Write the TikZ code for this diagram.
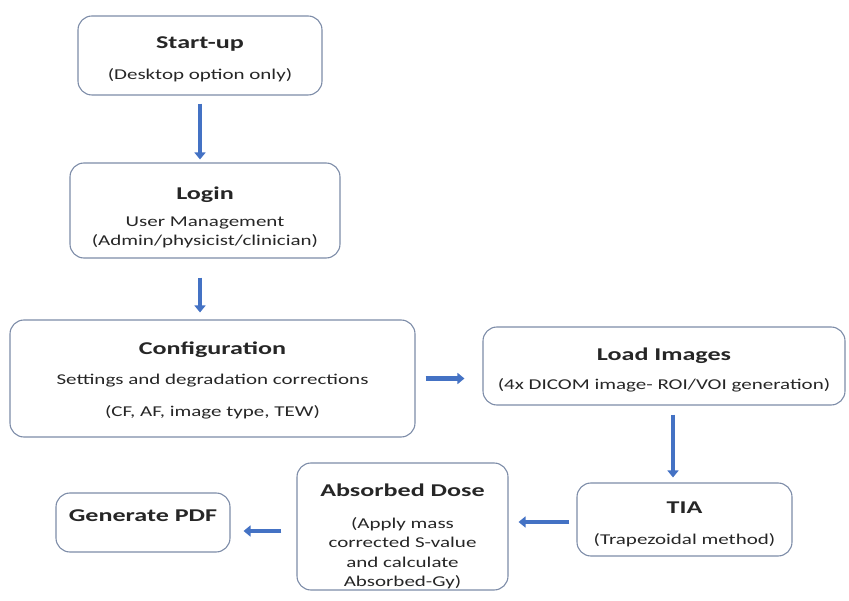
\documentclass[tikz,border=0pt]{standalone}
\usepackage{fontspec}
\setmainfont{Carlito}
\usepackage{xcolor}
\usepackage{tikz}
\usetikzlibrary{positioning,arrows.meta}
\definecolor{arrblue}{RGB}{68,114,196}
\definecolor{edge}{RGB}{125,140,168}
\newfontfamily\subfnt[FakeStretch=1.4]{Carlito}
\newfontfamily\ttlfnt[FakeStretch=1.45]{Carlito}
\newcommand{\ttl}[1]{{\ttlfnt\fontsize{18}{21}\selectfont\bfseries #1}}

\begin{document}
\begin{tikzpicture}[
  x=1pt, y=-1pt,
  font=\subfnt\fontsize{15}{19.5}\selectfont,
  b/.style={draw=edge, line width=1.1pt, rectangle, rounded corners=14pt, align=center, inner sep=0pt, text=black!85},
  arr/.style={-{Triangle[length=7pt,width=11pt]}, line width=4.5pt, draw=arrblue}
]
  \useasboundingbox (0,0) rectangle (849,601);
  \node[b, minimum width=244pt, minimum height=79pt] (start) at (200,55.5) {\rule{0pt}{19pt}\ttl{Start-up}\\[11pt](Desktop option only)};
  \node[b, minimum width=270pt, minimum height=95pt] (login) at (205,210.5) {\rule{0pt}{27pt}\ttl{Login}\\[7pt]User Management\\(Admin/physicist/clinician)};
  \node[b, minimum width=405pt, minimum height=117pt] (config) at (212.5,378.5) {\rule{0pt}{17pt}\ttl{Configuration}\\[10pt]Settings and degradation corrections\\[13pt](CF, AF, image type, TEW)};
  \node[b, minimum width=362pt, minimum height=78pt] (load) at (664,366) {\rule{0pt}{21pt}\ttl{Load Images}\\[9pt](4x DICOM image- ROI/VOI generation)};
  \node[b, minimum width=215pt, minimum height=73pt] (tia) at (684.5,519.5) {\rule{0pt}{21pt}\ttl{TIA}\\[12pt](Trapezoidal method)};
  \node[b, minimum width=211pt, minimum height=127pt] (dose) at (402.5,526.5) {\rule{0pt}{33pt}\ttl{Absorbed Dose}\\[12pt](Apply mass\\corrected S-value\\and calculate\\Absorbed-Gy)};
  \node[b, minimum width=174pt, minimum height=59pt] (pdf) at (143,522.5) {\ttl{Generate PDF}\rule[-14pt]{0pt}{14pt}};
  \draw[arr, shorten <=8pt, shorten >=3pt] (start.south) -- (start.south |- login.north);
  \draw[arr, shorten <=19pt, shorten >=7pt] (login.south -| start.south) -- (start.south |- config.north);
  \draw[arr, shorten <=10pt, shorten >=18pt] (config.east) -- (config.east -| load.west);
  \draw[arr, shorten <=9pt, shorten >=5pt] ([xshift=9pt]load.south) -- ([xshift=-11.5pt]tia.north);
  \draw[arr, shorten <=7pt, shorten >=10pt] ([yshift=-2.5pt]tia.west) -- ([yshift=-2.5pt]tia.west -| dose.east);
  \draw[arr, shorten <=15pt, shorten >=13pt] ([yshift=-4.5pt]dose.west) -- ([yshift=-4.5pt]dose.west -| pdf.east);
\end{tikzpicture}
\end{document}
